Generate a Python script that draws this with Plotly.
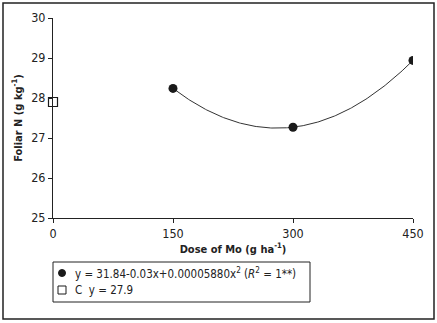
import numpy as np
import plotly.graph_objects as go

dose = [150, 300, 450]
foliar_n = [28.24, 27.27, 28.94]
control_x = [0]
control_y = [27.9]
x_ticks = [0, 150, 300, 450]
y_ticks = [25, 26, 27, 28, 29, 30]

coef = np.polyfit(dose, foliar_n, 2)
xs = np.linspace(min(dose), max(dose), 200)
ys = np.polyval(coef, xs)

FONT = "DejaVu Sans Condensed"

fig = go.Figure()
fig.add_trace(go.Scatter(x=xs, y=ys, mode="lines", line=dict(color="#333", width=1),
                         showlegend=False, hoverinfo="skip"))
fig.add_trace(go.Scatter(x=dose, y=foliar_n, mode="markers",
                         marker=dict(symbol="circle", size=9, color="#1a1a1a"),
                         showlegend=False))
fig.add_trace(go.Scatter(x=control_x, y=control_y, mode="markers",
                         marker=dict(symbol="square", size=9, color="white",
                                     line=dict(color="#1a1a1a", width=1.2)),
                         cliponaxis=False, showlegend=False))

W, H = 437, 323
L, R, T, B = 53, 24, 18, 105
PW, PH = W - L - R, H - T - B

def px(x):
    return (x - L) / PW

def py(y):
    return (H - B - y) / PH

shapes = [
    dict(type="rect", xref="paper", yref="paper", x0=px(3), x1=px(434), y0=py(319), y1=py(3),
         line=dict(color="#222", width=1.5)),
    dict(type="rect", xref="paper", yref="paper", x0=px(53), x1=px(310), y0=py(302), y1=py(262),
         line=dict(color="#222", width=1)),
    dict(type="circle", xref="paper", yref="paper", x0=px(58.5), x1=px(65.5), y0=py(276.5), y1=py(269.5),
         fillcolor="#1a1a1a", line=dict(color="#1a1a1a", width=1)),
    dict(type="rect", xref="paper", yref="paper", x0=px(58), x1=px(66), y0=py(294), y1=py(286),
         fillcolor="white", line=dict(color="#1a1a1a", width=1)),
]
annotations = [
    dict(xref="paper", yref="paper", x=px(73), y=py(273), xanchor="left", yanchor="middle",
         text="y = 31.84-0.03x+0.00005880x<sup>2</sup> (<i>R</i><sup>2</sup> = 1**)",
         showarrow=False, font=dict(size=11.5)),
    dict(xref="paper", yref="paper", x=px(73), y=py(290), xanchor="left", yanchor="middle",
         text="C  y = 27.9", showarrow=False, font=dict(size=11.5)),
]

fig.update_layout(
    width=W, height=H,
    margin=dict(l=L, r=R, t=T, b=B),
    paper_bgcolor="white", plot_bgcolor="white",
    font=dict(family=FONT, size=12, color="#222"),
    showlegend=False,
    xaxis=dict(range=[0, 450], tickvals=x_ticks, showline=True, linecolor="#222",
               linewidth=1, ticks="outside", ticklen=4, tickcolor="#222",
               showgrid=False, zeroline=False, automargin=False, tickfont=dict(size=12.5),
               title=dict(text="<b>Dose of Mo (g ha<sup>-1</sup>)</b>", font=dict(size=11), standoff=4)),
    yaxis=dict(range=[25, 30], tickvals=y_ticks, showline=True, linecolor="#222",
               linewidth=1, ticks="outside", ticklen=4, tickcolor="#222",
               showgrid=False, zeroline=False, automargin=False, tickfont=dict(size=12.5),
               title=dict(text="<b>Foliar N (g kg<sup>-1</sup>)</b>", font=dict(size=11), standoff=6)),
    shapes=shapes,
    annotations=annotations,
)

fig.write_html("out.html", config={"displayModeBar": False},
               post_script="document.body.style.margin='0';")
